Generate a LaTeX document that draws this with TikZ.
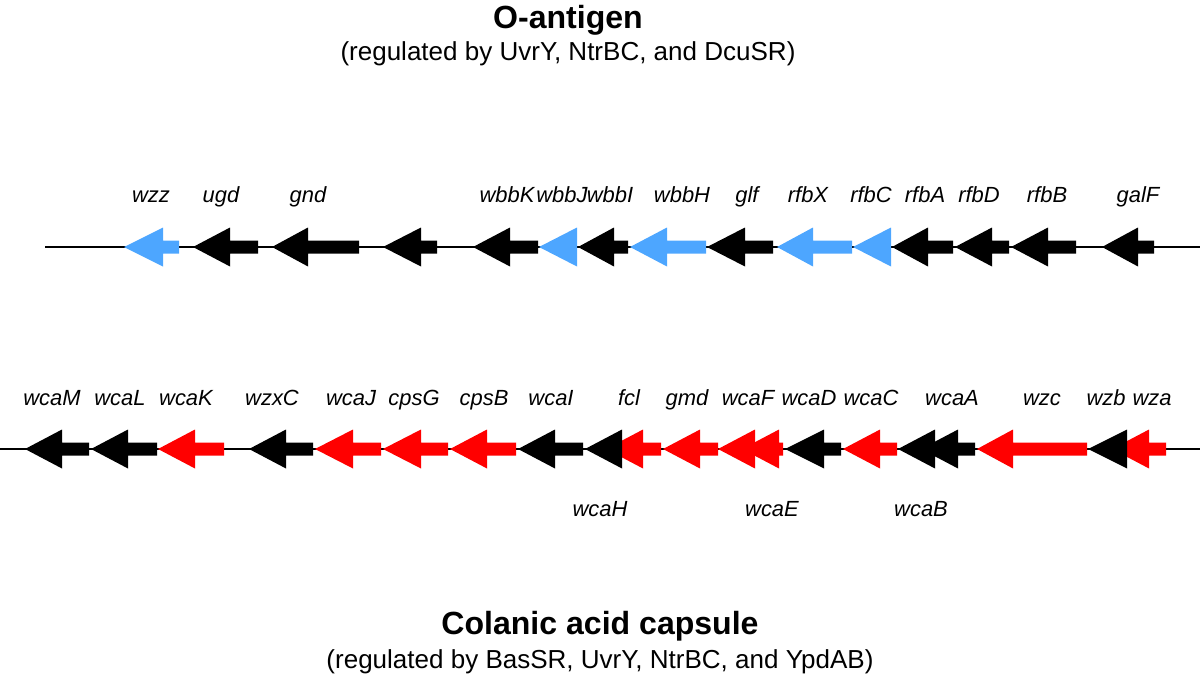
\documentclass[tikz,border=0pt]{standalone}
\usepackage{fontspec}
\setmainfont{Liberation Sans}
\usepackage{tikz}

\definecolor{oblue}{RGB}{77,166,255}
\definecolor{cred}{RGB}{255,0,0}

% gene arrow pointing left: colour, tip, head base, tail, row
\newcommand{\gene}[5]{%
  \fill[#1] (#2,#5) -- (#3,#5-19.5) -- (#3,#5-6.5) -- (#4,#5-6.5)
    -- (#4,#5+6.5) -- (#3,#5+6.5) -- (#3,#5+19.5) -- cycle;}

\begin{document}
\begin{tikzpicture}[x=0.025cm, y=-0.025cm,
    genelabel/.style={font=\fontsize{15.6}{18}\selectfont\itshape, anchor=base},
    maintitle/.style={font=\bfseries\fontsize{22.8}{27}\selectfont, anchor=base},
    subtitle/.style={font=\fontsize{18.5}{22}\selectfont, anchor=base}]
        \useasboundingbox (0,0) rectangle (1200,676);

        % Titles
        \node[maintitle] (otitle) at (568,29) {O-antigen};
        \node[subtitle] (osub) at (568,61) {(regulated by UvrY, NtrBC, and DcuSR)};
        \node[maintitle] (ctitle) at (600,634) {Colanic acid capsule};
        \node[subtitle] (csub) at (600,668) {(regulated by BasSR, UvrY, NtrBC, and YpdAB)};

        % O-antigen cluster
        \draw[line width=1.8pt] (45,247) -- (1200,247);
        \foreach \tip/\base/\tail/\col in {124/163/179/oblue, 193/230/258/black,
            272/308/359/black, 383/421/437/black, 473/510/538/black,
            539/577/577/oblue, 578/614/628/black, 630/667/706/oblue,
            707/745/773/black, 777/813/852/oblue, 853/891/891/oblue,
            892/928/953/black, 955/992/1009/black, 1011/1048/1076/black,
            1102/1138/1154/black}
            \gene{\col}{\tip}{\base}{\tail}{247};
        \foreach \name/\xpos in {wzz/151, ugd/221, gnd/308, wbbK/507, wbbJ/562,
            wbbI/610, wbbH/682, glf/747, rfbX/808, rfbC/871, rfbA/925,
            rfbD/979, rfbB/1047, galF/1138}
            \node[genelabel] (\name) at (\xpos,202) {\name};

        % Colanic acid cluster
        \draw[line width=1.8pt] (0,449) -- (1200,449);
        \foreach \tip/\base/\tail/\col in {25/62/89/black, 91/128/157/black,
            158/195/224/cred, 249/286/313/black, 315/353/381/cred,
            383/421/448/cred, 450/487/516/cred, 518/555/583/black,
            606/643/661/cred, 585/622/622/black, 663/700/718/cred,
            742/779/783/cred, 718/755/755/cred, 785/824/841/black,
            843/880/897/cred, 921/958/975/black, 898/935/935/black,
            977/1013/1087/cred, 1112/1149/1166/cred, 1088/1127/1127/black}
            \gene{\col}{\tip}{\base}{\tail}{449};
        \foreach \name/\xpos in {wcaM/52, wcaL/120, wcaK/186, wzxC/272, wcaJ/351,
            cpsG/414, cpsB/484, wcaI/551, fcl/629, gmd/687, wcaF/748,
            wcaD/809, wcaC/871, wcaA/952, wzc/1042, wzb/1106, wza/1152}
            \node[genelabel] (\name) at (\xpos,405) {\name};
        \foreach \name/\xpos in {wcaH/600, wcaE/772, wcaB/921}
            \node[genelabel] (\name) at (\xpos,516) {\name};
    \end{tikzpicture}
\end{document}
